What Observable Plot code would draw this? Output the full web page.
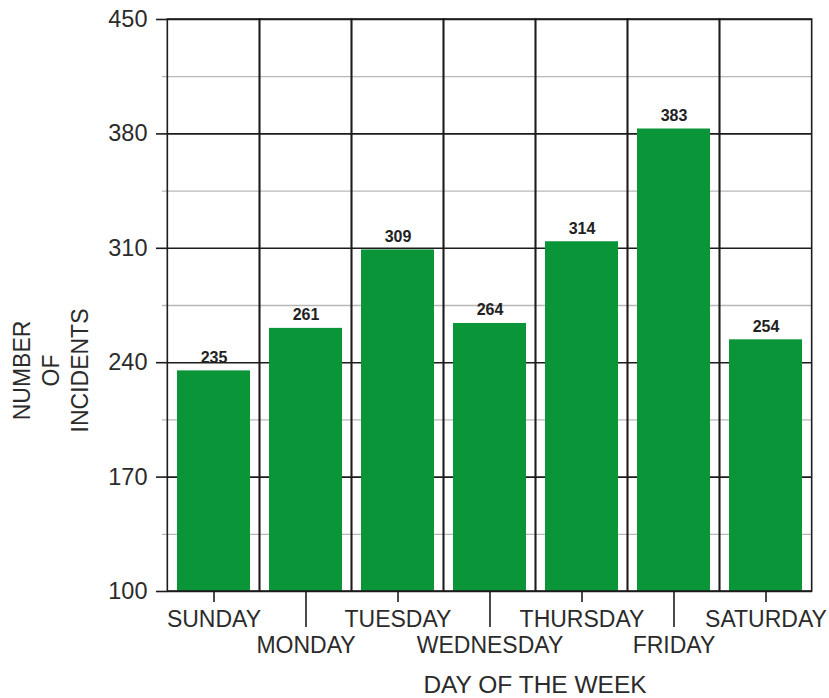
<!DOCTYPE html>
<html><head><meta charset="utf-8">
<script src="https://cdn.jsdelivr.net/npm/d3@7"></script>
<script src="https://cdn.jsdelivr.net/npm/@observablehq/plot@0.6"></script>
<style>html,body{margin:0;padding:0;background:#fff;} svg{display:block}</style>
</head><body><div id="chart"></div>
<script>
const days = ["SUNDAY","MONDAY","TUESDAY","WEDNESDAY","THURSDAY","FRIDAY","SATURDAY"];
const incidents = [235,261,309,264,314,383,254];
const yTicks = [100,170,240,310,380,450];
const yMinorTicks = [135,205,275,345,415];
const upperRowDays = ["SUNDAY","TUESDAY","THURSDAY","SATURDAY"];
const lowerRowDays = ["MONDAY","WEDNESDAY","FRIDAY"];
const xTitle = "DAY OF THE WEEK";
const yTitle = "NUMBER\nOF\nINCIDENTS";

const data = days.map((d, i) => ({day: d, value: incidents[i]}));
const font = "'Liberation Sans', Arial, Helvetica, sans-serif";
const bandPad = 0.21;
const width = 829, height = 698;
const marginLeft = 167, marginRight = 17, marginTop = 19, marginBottom = 107;
const step = (width - marginLeft - marginRight) / days.length;
const halfGap = step * bandPad / 2;
const ink = "#1c1c1c";

const plot = Plot.plot({
  width, height, marginLeft, marginRight, marginTop, marginBottom,
  style: {fontFamily: font, color: "#2b2b2b", background: "#fff", overflow: "visible"},
  x: {domain: days, paddingInner: bandPad, paddingOuter: bandPad / 2, align: 0.5},
  y: {domain: [yTicks[0], yTicks[yTicks.length - 1]]},
  marks: [
    Plot.ruleY(yMinorTicks, {stroke: "#b8b8b8", strokeWidth: 1.3, insetLeft: -5}),
    Plot.ruleY(yTicks, {stroke: ink, strokeWidth: 1.6}),
    Plot.barY(data, {x: "day", y1: yTicks[0], y2: "value", fill: "#0a9539"}),
    Plot.barY(days, {x: d => d, y1: yTicks[0], y2: yTicks[yTicks.length - 1], fill: "none", stroke: ink, strokeWidth: 1.6, insetLeft: -halfGap, insetRight: -halfGap}),
    Plot.text(data, {x: "day", y: "value", text: d => String(d.value), dy: -8, lineAnchor: "bottom", fontWeight: "bold", fontSize: 16, fill: "#222"}),
    Plot.axisY(yTicks, {tickSize: 11, tickPadding: 9, fontSize: 23.5, label: null, strokeWidth: 1.6, stroke: ink}),
    Plot.axisX(upperRowDays, {tickSize: 11, tickPadding: 8, fontSize: 23, label: null, strokeWidth: 1.6, stroke: ink}),
    Plot.axisX(lowerRowDays, {tickSize: 36, tickPadding: 9, fontSize: 23, label: null, strokeWidth: 1.6, stroke: ink}),
    Plot.text([yTitle], {frameAnchor: "left", textAnchor: "middle", dx: -118, dy: 65, rotate: -90, fontSize: 23, lineHeight: 1.27, fill: "#2b2b2b"}),
    Plot.text([xTitle], {frameAnchor: "bottom", dx: 45, dy: 94, lineAnchor: "middle", fontSize: 24.5, fill: "#2b2b2b"})
  ]
});
document.getElementById("chart").appendChild(plot);
</script>
</body></html>
